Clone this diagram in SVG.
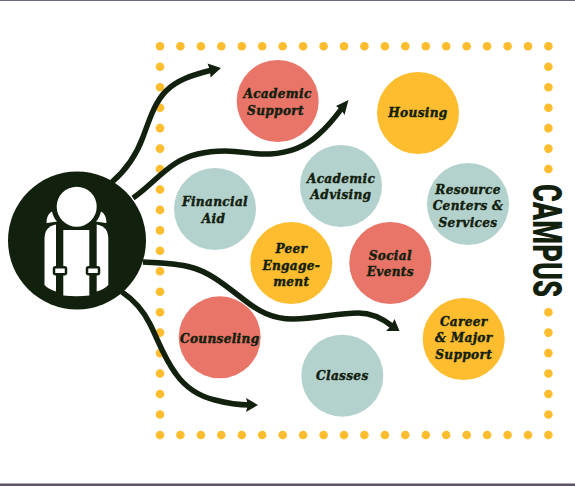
<svg xmlns="http://www.w3.org/2000/svg" width="575" height="486" viewBox="0 0 575 486">
<style>
.y{fill:#fdbd2e}.r{fill:#e97468}.t{fill:#b4d2cd}
.l{font:italic 700 13.500px "DejaVu Serif Condensed","DejaVu Serif",serif;fill:#12200e;stroke:#12200e;stroke-width:.4;text-anchor:middle;letter-spacing:.3px}
.c{fill:none;stroke:#12200e;stroke-width:5.500}
.h{fill:#12200e}
</style>
<defs><circle id="d" r="4.300" class="y"/></defs>
<rect width="575" height="486" fill="#fff"/>
<rect y="0" width="575" height="1" fill="#6f6580"/>
<rect y="483.500" width="575" height="2.500" fill="#5b5368"/>
<g id="dots">
<use href="#d" x="160" y="46.300"/><use href="#d" x="180.400" y="46.300"/><use href="#d" x="200.900" y="46.300"/><use href="#d" x="221.300" y="46.300"/><use href="#d" x="241.800" y="46.300"/><use href="#d" x="262.200" y="46.300"/><use href="#d" x="282.700" y="46.300"/><use href="#d" x="303.100" y="46.300"/><use href="#d" x="323.600" y="46.300"/><use href="#d" x="344" y="46.300"/><use href="#d" x="364.400" y="46.300"/><use href="#d" x="384.900" y="46.300"/><use href="#d" x="405.300" y="46.300"/><use href="#d" x="425.800" y="46.300"/><use href="#d" x="446.200" y="46.300"/><use href="#d" x="466.700" y="46.300"/><use href="#d" x="487.100" y="46.300"/><use href="#d" x="507.600" y="46.300"/><use href="#d" x="528" y="46.300"/><use href="#d" x="548.400" y="46.300"/>
<use href="#d" x="160" y="435"/><use href="#d" x="180.400" y="435"/><use href="#d" x="200.900" y="435"/><use href="#d" x="221.300" y="435"/><use href="#d" x="241.800" y="435"/><use href="#d" x="262.200" y="435"/><use href="#d" x="282.700" y="435"/><use href="#d" x="303.100" y="435"/><use href="#d" x="323.600" y="435"/><use href="#d" x="344" y="435"/><use href="#d" x="364.400" y="435"/><use href="#d" x="384.900" y="435"/><use href="#d" x="405.300" y="435"/><use href="#d" x="425.800" y="435"/><use href="#d" x="446.200" y="435"/><use href="#d" x="466.700" y="435"/><use href="#d" x="487.100" y="435"/><use href="#d" x="507.600" y="435"/><use href="#d" x="528" y="435"/><use href="#d" x="548.400" y="435"/>
<use href="#d" x="160" y="66.800"/><use href="#d" x="160" y="87.200"/><use href="#d" x="160" y="107.700"/><use href="#d" x="160" y="128.100"/><use href="#d" x="160" y="148.600"/><use href="#d" x="160" y="169"/><use href="#d" x="160" y="189.500"/><use href="#d" x="160" y="209.900"/><use href="#d" x="160" y="230.400"/><use href="#d" x="160" y="250.800"/><use href="#d" x="160" y="271.300"/><use href="#d" x="160" y="291.700"/><use href="#d" x="160" y="312.200"/><use href="#d" x="160" y="332.600"/><use href="#d" x="160" y="353.100"/><use href="#d" x="160" y="373.500"/><use href="#d" x="160" y="394"/><use href="#d" x="160" y="414.500"/>
<use href="#d" x="548.400" y="66.800"/><use href="#d" x="548.400" y="87.200"/><use href="#d" x="548.400" y="107.700"/><use href="#d" x="548.400" y="128.100"/><use href="#d" x="548.400" y="148.600"/><use href="#d" x="548.400" y="169"/><use href="#d" x="548.400" y="312.200"/><use href="#d" x="548.400" y="332.600"/><use href="#d" x="548.400" y="353.100"/><use href="#d" x="548.400" y="373.500"/><use href="#d" x="548.400" y="394"/><use href="#d" x="548.400" y="414.500"/>
</g>
<g id="connectors">
<path class="c" d="M112 182C126 170 136 156 143 137C150 118 155 102 166 91C177 80 192 75 212 70"/>
<polygon class="h" points="221,68 207.500,63.500 210,70 210.500,77.500"/>
<path class="c" d="M133 198C148 188 160 173 176 163C192 153 208 151 225 151C242 151 254 155 270 154C288 153 304 148 318 135C326 128 334 119 342 108"/>
<polygon class="h" points="348.500,100 336,106 341.500,110 344.500,115"/>
<path class="c" d="M143 262C160 263 176 263 190 267C210 272 226 286 243 299C258 311 272 319 293 319C316 319 338 313 358 313C372 313 382 318 392 326"/>
<polygon class="h" points="399.500,331 394.500,319 391,326 386,331"/>
<path class="c" d="M122 292C134 300 143 310 150 324C158 340 164 358 176 374C186 388 198 396 215 400C226 403 236 405 250 405"/>
<polygon class="h" points="258,405 246,398 248,405 246,412"/>
</g>
<g id="student">
<circle cx="77" cy="240.500" r="69" class="h"/>
<path fill="#fff" d="M44.500 285V239C44.500 231 48 226 56 224.500V291.500C51 290 47 288 44.500 285Z"/>
<path fill="#fff" d="M63.300 230H89.300V295.500C81 296.500 72 296.500 63.300 295.500Z"/>
<path fill="#fff" d="M96.700 224.500C105 226 108.300 231 108.300 239V285C105.500 288 102 290 96.700 291.500Z"/>
<path fill="#fff" d="M46.500 223C46.500 217 49 213 52 211.500C53 216 55 219.500 57 221.500C54 222 50 222.500 46.500 223Z"/>
<path fill="#fff" d="M106.500 223C106.500 217 104 213 101 211.500C100 216 98 219.500 96 221.500C99 222 103 222.500 106.500 223Z"/>
<circle cx="76.700" cy="206.700" r="20" fill="#fff"/>
<rect x="54" y="267.200" width="12" height="7" rx="1.500" fill="#fff" stroke="#12200e" stroke-width="2.500"/>
<rect x="87" y="267.200" width="12" height="7" rx="1.500" fill="#fff" stroke="#12200e" stroke-width="2.500"/>
</g>
<g id="academic-support"><circle cx="277.700" cy="101" r="41" class="r"/><text class="l" x="277.500" y="98">Academic</text><text class="l" x="275.500" y="114.500">Support</text></g>
<g id="housing"><circle cx="418" cy="113" r="41" class="y"/><text class="l" x="418" y="117">Housing</text></g>
<g id="academic-advising"><circle cx="341" cy="186" r="41" class="t"/><text class="l" x="341" y="182.500">Academic</text><text class="l" x="341" y="198.500">Advising</text></g>
<g id="financial-aid"><circle cx="215" cy="209" r="41" class="t"/><text class="l" x="215" y="206">Financial</text><text class="l" x="213.500" y="222.500">Aid</text></g>
<g id="resource-centers"><circle cx="468" cy="204" r="41" class="t"/><text class="l" x="468" y="193.500">Resource</text><text class="l" x="468" y="210">Centers &amp;</text><text class="l" x="468" y="226.500">Services</text></g>
<g id="peer-engagement"><circle cx="291.300" cy="263" r="41" class="y"/><text class="l" x="291.300" y="253">Peer</text><text class="l" x="291.300" y="269.500">Engage-</text><text class="l" x="291.300" y="286">ment</text></g>
<g id="social-events"><circle cx="390.300" cy="263" r="41" class="r"/><text class="l" x="390.300" y="260">Social</text><text class="l" x="390.300" y="276">Events</text></g>
<g id="counseling"><circle cx="219.700" cy="337.300" r="41" class="r"/><text class="l" x="219.700" y="342.500">Counseling</text></g>
<g id="classes"><circle cx="342.300" cy="375.700" r="41" class="t"/><text class="l" x="342.300" y="379.500">Classes</text></g>
<g id="career-support"><circle cx="463.700" cy="339" r="41" class="y"/><text class="l" x="463.700" y="325.500">Career</text><text class="l" x="463.700" y="342">&amp; Major</text><text class="l" x="463.700" y="358.500">Support</text></g>
<g id="campus-label"><text transform="translate(533 184) rotate(90)" x="0" y="0" textLength="113" lengthAdjust="spacingAndGlyphs" font-family="Roboto,'Liberation Sans',sans-serif" font-weight="900" font-size="40" fill="#12200e">CAMPUS</text></g>
</svg>
